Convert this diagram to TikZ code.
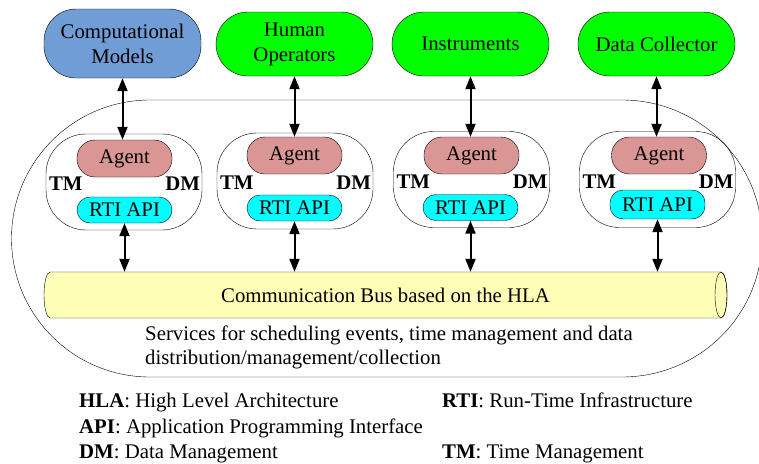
\documentclass[tikz,border=0pt]{standalone}
\usepackage{fontspec}
\setmainfont{Liberation Serif}
\usetikzlibrary{arrows.meta, positioning}

\definecolor{modelblue}{RGB}{112,157,214}
\definecolor{agentpink}{RGB}{218,150,148}
\definecolor{apicyan}{RGB}{0,255,255}
\definecolor{srcgreen}{RGB}{0,255,0}
\definecolor{busyellow}{RGB}{255,255,184}

\begin{document}
\begin{tikzpicture}[x=1pt, y=-1pt,
    font=\fontsize{20.8}{25}\selectfont,
    source/.style={draw, rounded corners=32pt, minimum width=157pt, minimum height=64pt, align=center, inner sep=0pt},
    fed/.style={draw, rounded corners=40pt, minimum width=156pt, minimum height=96pt},
    agent/.style={draw, fill=agentpink, rounded corners=18pt, minimum width=95pt, minimum height=37pt, inner sep=0pt},
    rti/.style={draw, fill=apicyan, rounded corners=13pt, minimum width=95pt, minimum height=26pt, inner sep=0pt},
    tag/.style={font=\fontsize{20.8}{25}\selectfont\bfseries, inner sep=1pt},
    link/.style={{Triangle[width=10pt,length=13pt]}-{Triangle[width=10pt,length=13pt]}, line width=2pt},
    legend/.style={anchor=base west, inner sep=0pt}]
      \useasboundingbox (0, 0) rectangle (759, 463);
      % federation outline
      \draw (150, 100) -- (622, 100)
            arc[start angle=90, end angle=-90, x radius=140pt, y radius=138.5pt]
            -- (150, 377)
            arc[start angle=270, end angle=90, radius=138.5pt] -- cycle;
      % outside participants
      \node (m1)[source, fill=modelblue, minimum height=69pt] at (122.5, 43.5) {Computational\\Models};
      \node (m2)[source, fill=srcgreen] at (294.5, 44) {Human\\Operators};
      \node (m3)[source, fill=srcgreen] at (470.5, 44) {Instruments};
      \node (m4)[source, fill=srcgreen] at (656.5, 44) {Data Collector};
      % federates
      \node (c1)[fed] at (124, 182) {};
      \node (c2)[fed] at (295, 181) {};
      \node (c3)[fed] at (471.5, 179.5) {};
      \node (c4)[fed] at (657.5, 179.5) {};
      \node (a1)[agent] at (124.5, 158.5) {Agent};
      \node (a2)[agent] at (294.5, 155.5) {Agent};
      \node (a3)[agent] at (471.5, 155.5) {Agent};
      \node (a4)[agent] at (659, 155.5) {Agent};
      \node (r1)[rti] at (124.5, 210) {RTI API};
      \node (r2)[rti] at (294.5, 208) {RTI API};
      \node (r3)[rti] at (470.5, 207.5) {RTI API};
      \node (r4)[rti, minimum height=29pt] at (657.5, 204.5) {RTI API};
      \foreach \i in {1,...,4} {
        \node (tm\i)[tag, anchor=west] at ([xshift=2pt, yshift=-2pt]c\i.west) {TM};
        \node (dm\i)[tag, anchor=east] at ([xshift=-1pt, yshift=-2pt]c\i.east) {DM};
      }
      % bus as a lying cylinder
      \coordinate (busw) at (50, 295);
      \coordinate (buse) at (721, 295);
      \filldraw[fill=busyellow] ([yshift=23pt]busw) -- ([yshift=23pt]buse)
            arc[start angle=90, end angle=-90, x radius=6pt, y radius=23pt]
            -- ([yshift=-23pt]busw)
            arc[start angle=270, end angle=90, x radius=6pt, y radius=23pt] -- cycle;
      \draw (buse) ellipse[x radius=6pt, y radius=23pt];
      \node (bus)[minimum width=671pt, minimum height=46pt, inner sep=0pt] at (385.5, 295) {Communication Bus based on the HLA};
      \node (services)[anchor=west, align=left, inner sep=0pt, font=\fontsize{20.8}{24}\selectfont] at (145, 347.5)
            {Services for scheduling events, time management and data\\distribution/management/collection};
      % connections
      \foreach \i in {1,...,4} {
        \draw[link] (m\i) -- (m\i |- a\i.north);
        \draw[link] (r\i) -- (r\i |- bus.north);
      }
      % legend
      \node (hlakey)[legend] at (79, 407.5) {\textbf{HLA}: High Level Architecture};
      \node (rtikey)[legend] at (442, 407.5) {\textbf{RTI}: Run-Time Infrastructure};
      \node (apikey)[legend] at (79, 433) {\textbf{API}: Application Programming Interface};
      \node (dmkey)[legend] at (79, 458) {\textbf{DM}: Data Management};
      \node (tmkey)[legend] at (442, 458) {\textbf{TM}: Time Management};
\end{tikzpicture}
\end{document}
